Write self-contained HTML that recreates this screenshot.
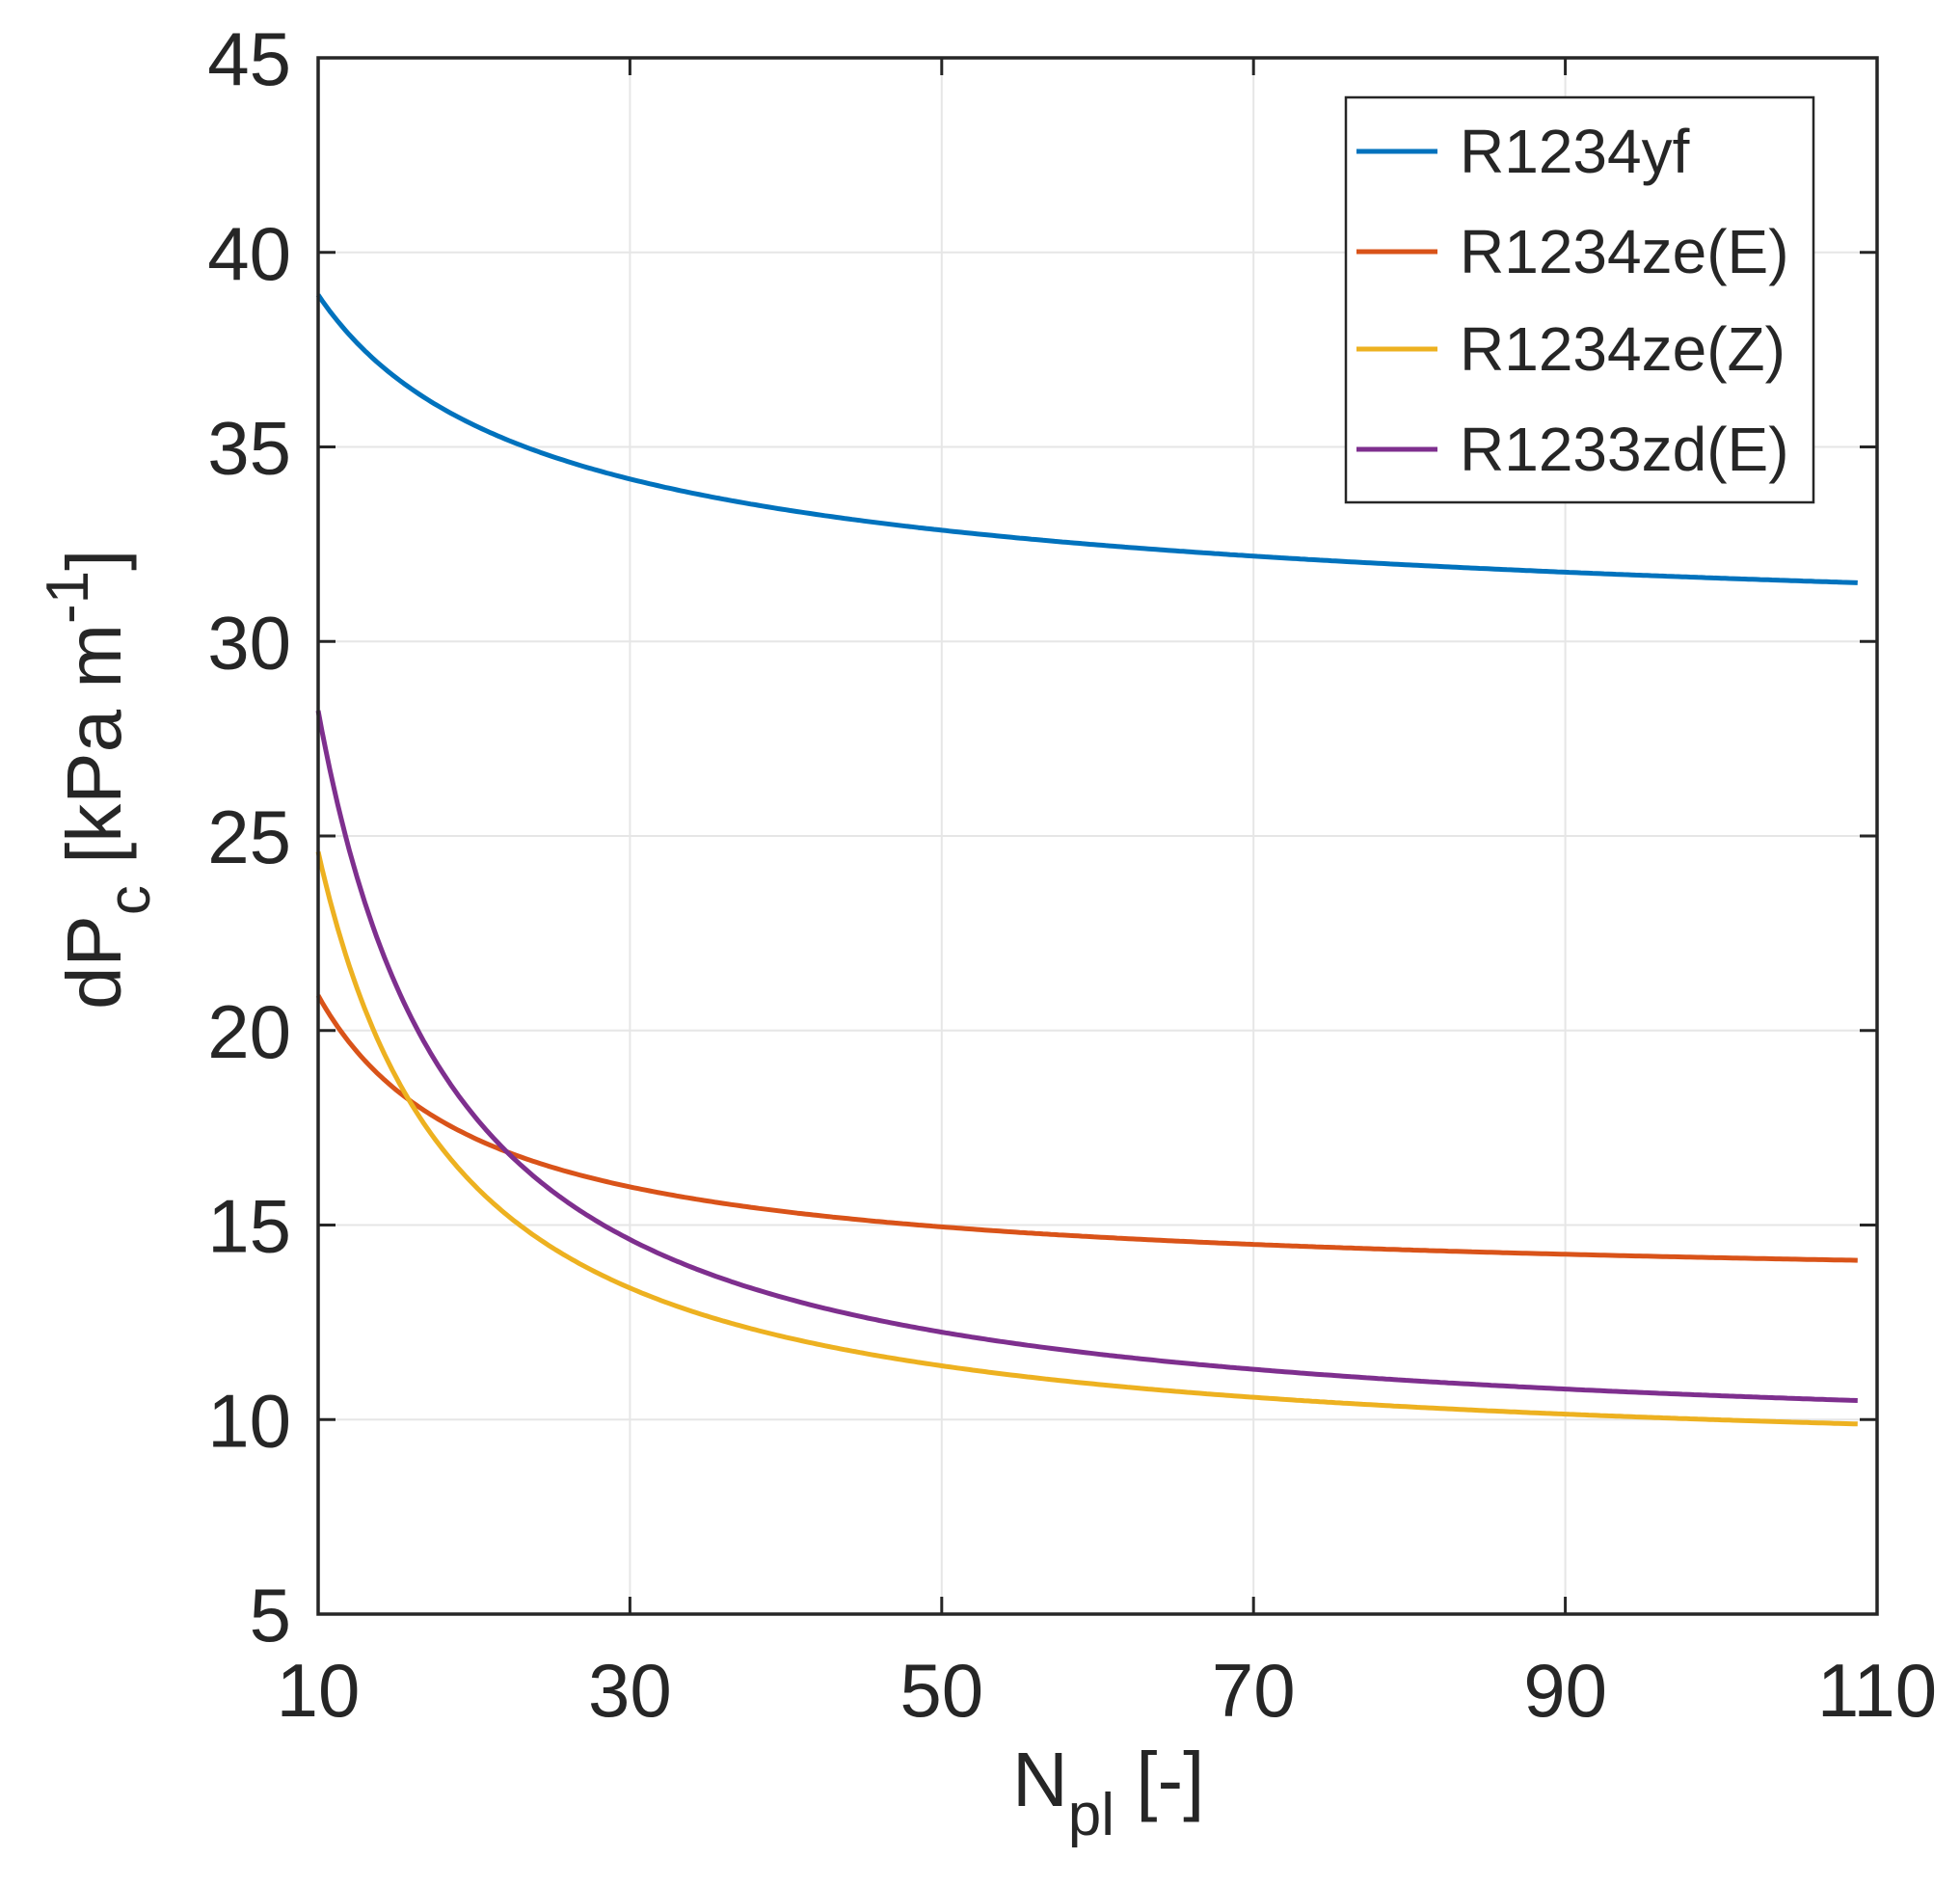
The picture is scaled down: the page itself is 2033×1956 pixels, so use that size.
<!DOCTYPE html>
<html><head><meta charset="utf-8"><style>
html,body{margin:0;padding:0;background:#fff;}
svg{display:block;font-family:"Liberation Sans",sans-serif;}
</style></head><body>
<svg id="s" width="2033" height="1956" viewBox="0 0 2033 1956" xmlns="http://www.w3.org/2000/svg">
<rect width="2033" height="1956" fill="#fff"/>
<g id="grid" stroke="#e6e6e6" stroke-width="2"></g>
<g id="curves" fill="none" stroke-width="5" stroke-linejoin="round"></g>
<rect x="330" y="60" width="1617" height="1614" fill="none" stroke="#262626" stroke-width="3.5"/>
<g id="ticks" stroke="#262626" stroke-width="3"></g>
<g id="labels" font-size="78" fill="#262626"></g>
<text x="1050" y="1873" font-size="80" fill="#262626">N<tspan dy="30" font-size="62">pl</tspan><tspan dy="-30"> [-]</tspan></text>
<text transform="translate(125,1047) rotate(-90)" font-size="80" fill="#262626">dP<tspan dy="30" font-size="62">c</tspan><tspan dy="-30"> [kPa m</tspan><tspan dy="-34" font-size="62">-1</tspan><tspan dy="34">]</tspan></text>
<g>
<rect x="1396" y="101" width="485" height="420" fill="#fff" stroke="#262626" stroke-width="2.5"/>
<g stroke-width="5">
<line x1="1407" y1="157" x2="1491" y2="157" stroke="#0072BD"/>
<line x1="1407" y1="261" x2="1491" y2="261" stroke="#D95319"/>
<line x1="1407" y1="362" x2="1491" y2="362" stroke="#EDB120"/>
<line x1="1407" y1="466" x2="1491" y2="466" stroke="#7E2F8E"/>
</g>
<g font-size="64" fill="#262626">
<text x="1514" y="179">R1234yf</text>
<text x="1514" y="283">R1234ze(E)</text>
<text x="1514" y="384">R1234ze(Z)</text>
<text x="1514" y="488">R1233zd(E)</text>
</g>
</g>
</svg>
<script>
const NS="http://www.w3.org/2000/svg";
const X=v=>330+(v-10)*16.17, Y=v=>1674-(v-5)*40.35;
function el(p,t,a,txt){const e=document.createElementNS(NS,t);for(const k in a)e.setAttribute(k,a[k]);if(txt)e.textContent=txt;document.getElementById(p).appendChild(e);}
for(let x=30;x<=90;x+=20){el("grid","line",{x1:X(x),y1:60,x2:X(x),y2:1674});el("ticks","line",{x1:X(x),y1:1674,x2:X(x),y2:1656});el("ticks","line",{x1:X(x),y1:60,x2:X(x),y2:78});}
for(let y=10;y<=40;y+=5){el("grid","line",{x1:330,y1:Y(y),x2:1947,y2:Y(y)});el("ticks","line",{x1:330,y1:Y(y),x2:348,y2:Y(y)});el("ticks","line",{x1:1947,y1:Y(y),x2:1929,y2:Y(y)});}
for(let x=10;x<=110;x+=20)el("labels","text",{x:X(x),y:1780,"text-anchor":"middle"},String(x));
for(let y=5;y<=45;y+=5)el("labels","text",{x:302,y:Y(y)+28,"text-anchor":"end"},String(y));
const S=[
["#0072BD",[[10,38.9],[15,36.9],[20,35.5],[30,34.1],[40,33.4],[50,32.9],[70,32.2],[90,31.8],[109,31.5]]],
["#D95319",[[10,20.9],[15,18.5],[20,17.2],[30,16.0],[40,15.35],[50,14.95],[70,14.5],[90,14.2],[109,14.1]]],
["#EDB120",[[10,24.6],[15,18.8],[20,16.0],[25,14.5],[30,13.4],[40,12.1],[50,11.2],[70,10.4],[90,10.1],[109,9.95]]],
["#7E2F8E",[[10,28.2],[15,21.5],[20,17.9],[25,15.7],[30,14.5],[40,13.0],[50,12.0],[70,11.1],[90,10.75],[109,10.6]]]];
function fit(pts){
 let best=null;
 for(let p=0.3;p<=4;p+=0.01){
  // y = a + b*x^-p, weighted: pin endpoints strongly
  let n=0,sx=0,sy=0,sxx=0,sxy=0;
  pts.forEach((q,i)=>{const w=(i==0||i==pts.length-1)?5:1;const u=Math.pow(q[0],-p);n+=w;sx+=w*u;sy+=w*q[1];sxx+=w*u*u;sxy+=w*u*q[1];});
  const b=(n*sxy-sx*sy)/(n*sxx-sx*sx),a=(sy-b*sx)/n;
  let e=0;pts.forEach(q=>{const r=a+b*Math.pow(q[0],-p)-q[1];e+=r*r;});
  if(!best||e<best.e)best={a,b,p,e};
 }
 return best;
}
for(const [c,pts] of S){
 const f=fit(pts);
 let d="";
 for(let x=10;x<=108.9;x+=0.25){const y=f.a+f.b*Math.pow(x,-f.p);d+=(d?"L":"M")+X(x).toFixed(1)+","+Y(y).toFixed(1);}
 el("curves","path",{d:d,stroke:c});
}
</script>
</body></html>
